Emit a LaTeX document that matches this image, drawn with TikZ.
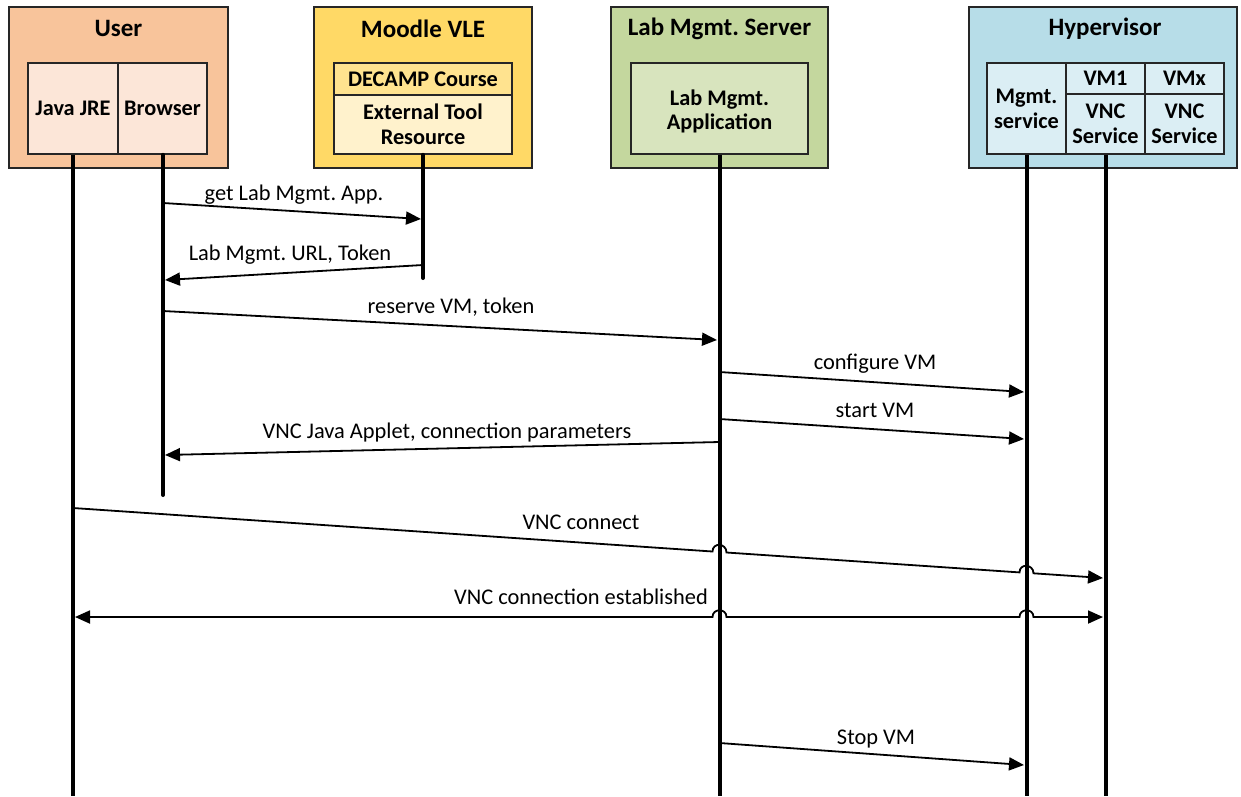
\documentclass[tikz,border=0pt]{standalone}
\usepackage{fontspec}
\setmainfont{Carlito}
\usetikzlibrary{arrows.meta}
\frenchspacing

\definecolor{userout}{HTML}{F8C49B}
\definecolor{userin}{HTML}{FCE6D8}
\definecolor{moodleout}{HTML}{FFD966}
\definecolor{moodlemid}{HTML}{FFE38F}
\definecolor{moodlein}{HTML}{FFF2CC}
\definecolor{labout}{HTML}{C4D79E}
\definecolor{labin}{HTML}{D8E4BE}
\definecolor{hypout}{HTML}{B7DDE8}
\definecolor{hypin}{HTML}{DBEEF4}
\definecolor{edge}{HTML}{262626}

\tikzset{
  outerbox/.style={draw=edge, line width=2pt, inner sep=0pt},
  cellbox/.style={draw=edge, line width=1.6pt, inner sep=0pt, align=center,
    font=\fontsize{22.3}{25}\selectfont\bfseries},
  titletext/.style={font=\fontsize{25}{29}\selectfont\bfseries, inner sep=0pt},
  msgtext/.style={font=\fontsize{22.4}{26}\selectfont, inner sep=0pt, anchor=base},
  lifeline/.style={line width=4pt, black},
  msg/.style={line width=1.8pt, black, -{Triangle[length=15pt,width=13pt]}},
  bimsg/.style={line width=1.8pt, black,
    {Triangle[length=15pt,width=13pt]}-{Triangle[length=15pt,width=13pt]}},
}

\begin{document}
\begin{tikzpicture}[x=1pt, y=-1pt]
\useasboundingbox (0,0) rectangle (1241,796);

% ---- participants ----
% User
\node[outerbox, fill=userout, minimum width=219pt, minimum height=161pt] (user) at (118.5,87.5) {};
\node[titletext] (usert) at (118.5,28.5) {User};
\node[cellbox, fill=userin, minimum width=90pt, minimum height=91pt] (jre) at (73,108.5) {Java JRE};
\node[cellbox, fill=userin, minimum width=89pt, minimum height=91pt] (brw) at (162.5,108.5) {Browser};

% Moodle VLE
\node[outerbox, fill=moodleout, minimum width=218pt, minimum height=161pt] (moodle) at (423,87.5) {};
\node[titletext] (moodlet) at (423,28.5) {Moodle VLE};
\node[cellbox, fill=moodlemid, minimum width=178pt, minimum height=32pt] (course) at (423,79) {DECAMP Course};
\node[cellbox, fill=moodlein, minimum width=178pt, minimum height=59pt] (ext) at (423,124.5)
  {\fontsize{22.3}{27}\selectfont External Tool\\Resource};

% Lab management server
\node[outerbox, fill=labout, minimum width=217pt, minimum height=161pt] (lab) at (719.5,87.5) {};
\node[titletext] (labt) at (719.5,28.5) {Lab Mgmt. Server};
\node[cellbox, fill=labin, minimum width=177pt, minimum height=91pt] (app) at (719.5,108.5) {};
\node[align=center, inner sep=0pt, font=\fontsize{22.3}{24}\selectfont\bfseries] (appt)
  at (719.5,111) {Lab Mgmt.\\Application};

% Hypervisor
\node[outerbox, fill=hypout, minimum width=268pt, minimum height=161pt] (hyp) at (1103,87.5) {};
\node[titletext] (hypt) at (1105,28.5) {Hypervisor};
\node[cellbox, fill=hypin, minimum width=79pt, minimum height=91pt] (mgmt) at (1026.5,108.5) {Mgmt.\\service};
\node[cellbox, fill=hypin, minimum width=79pt, minimum height=31pt] (vm1) at (1105.5,78.5) {VM1};
\node[cellbox, fill=hypin, minimum width=79pt, minimum height=60pt] (vnc1) at (1105.5,124) {VNC\\Service};
\node[cellbox, fill=hypin, minimum width=79pt, minimum height=31pt] (vmx) at (1184.5,78.5) {VMx};
\node[cellbox, fill=hypin, minimum width=79pt, minimum height=60pt] (vncx) at (1184.5,124) {VNC\\Service};

% ---- lifelines ----
\coordinate (jreE) at (73,796);
\coordinate (brwE) at (163,495);
\coordinate (extE) at (423,278);
\coordinate (appE) at (719.5,796);
\coordinate (mgmtE) at (1026.5,796);
\coordinate (vncE) at (1105.5,796);
\draw[lifeline] (jre.south) -- (jreE);
\draw[lifeline, line cap=round] (brw.south -| brwE) -- (brwE);
\draw[lifeline, line cap=round] (ext.south) -- (extE);
\draw[lifeline] (app.south) -- (appE);
\draw[lifeline] (mgmt.south) -- (mgmtE);
\draw[lifeline] (vnc1.south) -- (vncE);

% ---- message end points ----
\coordinate (m1a) at (163,203);   \coordinate (m1b) at (421,219);
\coordinate (m2a) at (423,265);   \coordinate (m2b) at (165,280);
\coordinate (m3a) at (163,311);   \coordinate (m3b) at (717,340);
\coordinate (m4a) at (719.5,372); \coordinate (m4b) at (1024,392);
\coordinate (m5a) at (719.5,419); \coordinate (m5b) at (1024,439);
\coordinate (m6a) at (719.5,442); \coordinate (m6b) at (165,455);
\coordinate (m7a) at (73,508);    \coordinate (m7b) at (1103,578);
\coordinate (m8a) at (75,617);    \coordinate (m8b) at (1103,617);
\coordinate (m9a) at (719.5,743); \coordinate (m9b) at (1024,765);

% ---- messages ----
\draw[msg] (m1a) -- (m1b);
\node[msgtext] (l1) at (294,200) {get Lab Mgmt. App.};

\draw[msg] (m2a) -- (m2b);
\node[msgtext] (l2) at (290,260) {Lab Mgmt. URL, Token};

\draw[msg] (m3a) -- (m3b);
\node[msgtext] (l3) at (451,313) {reserve VM, token};

\draw[msg] (m4a) -- (m4b);
\node[msgtext] (l4) at (875,369) {configure VM};

\draw[msg] (m5a) -- (m5b);
\node[msgtext] (l5) at (875,417) {start VM};

\draw[msg] (m6a) -- (m6b);
\node[msgtext] (l6) at (447,438) {VNC Java Applet, connection parameters};

% VNC connect, hopping over the server and management lifelines
\draw[msg] (m7a) -- (712.5,551.5)
  .. controls (712.5,542) and (726.5,543) .. (726.5,552.5)
  -- (1019.5,572.4)
  .. controls (1019.5,563) and (1033.5,564) .. (1033.5,573.3)
  -- (m7b);
\node[msgtext] (l7) at (581,529) {VNC connect};

% VNC connection established, both directions
\draw[bimsg] (m8a) -- (712.5,617)
  .. controls (712.5,608) and (726.5,608) .. (726.5,617)
  -- (1019.5,617)
  .. controls (1019.5,608) and (1033.5,608) .. (1033.5,617)
  -- (m8b);
\node[msgtext] (l8) at (581,604) {VNC connection established};

\draw[msg] (m9a) -- (m9b);
\node[msgtext] (l9) at (876,744) {Stop VM};

\end{tikzpicture}
\end{document}
